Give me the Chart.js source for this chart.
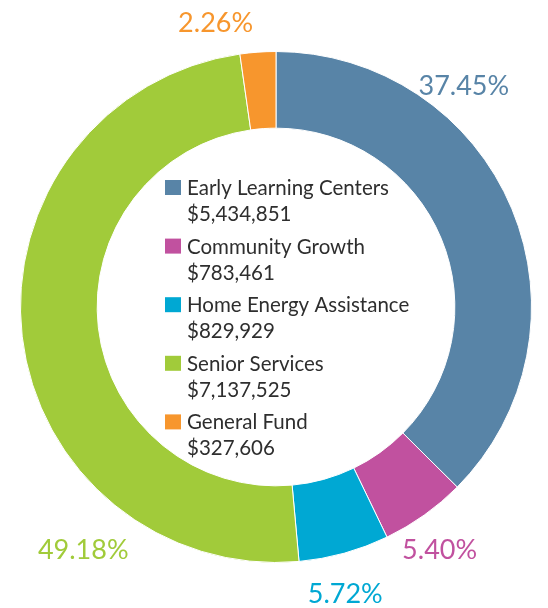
<!DOCTYPE html>
<html><head><meta charset="utf-8">
<script src="https://cdn.jsdelivr.net/npm/chart.js@4/dist/chart.umd.min.js"></script>
<style>html,body{margin:0;padding:0;background:#fff;overflow:hidden}canvas{display:block}</style>
</head><body>
<canvas id="c" width="548" height="608"></canvas>
<script>
const categories = ["Early Learning Centers", "Community Growth", "Home Energy Assistance", "Senior Services", "General Fund"];
const amounts = [5434851, 783461, 829929, 7137525, 327606];
const amountLabels = ["$5,434,851", "$783,461", "$829,929", "$7,137,525", "$327,606"];
const percentLabels = ["37.45%", "5.40%", "5.72%", "49.18%", "2.26%"];
const sliceColors = ["#5884a7", "#c1519f", "#00a8d3", "#a1cb3a", "#f7962d"];

// label placement: fraction along each arc, and distance beyond outer radius
const labelPlace = [
  {f: 0.300, d: 34}, {f: 0.582, d: 38}, {f: 0.593, d: 40}, {f: 0.246, d: 55}, {f: -0.477, d: 35}
];

const outerLabels = {
  id: 'outerLabels',
  afterDatasetsDraw(chart) {
    const ctx = chart.ctx;
    const meta = chart.getDatasetMeta(0);
    ctx.save();
    ctx.font = '400 27px Lato, "Open Sans", sans-serif';
    ctx.textAlign = 'center';
    ctx.textBaseline = 'middle';
    meta.data.forEach((arc, i) => {
      const p = arc.getProps(['x', 'y', 'startAngle', 'endAngle', 'outerRadius'], true);
      const a = p.startAngle + labelPlace[i].f * (p.endAngle - p.startAngle);
      const r = p.outerRadius + labelPlace[i].d;
      ctx.fillStyle = sliceColors[i];
      ctx.fillText(percentLabels[i], p.x + r * Math.cos(a), p.y + r * Math.sin(a));
    });
    ctx.restore();
  }
};

const centerLegend = {
  id: 'centerLegend',
  afterDatasetsDraw(chart) {
    const ctx = chart.ctx;
    const arc = chart.getDatasetMeta(0).data[0];
    const cx = arc.x, cy = arc.y;
    ctx.save();
    ctx.font = '20.5px Lato, "Open Sans", sans-serif';
    ctx.textAlign = 'left';
    ctx.textBaseline = 'alphabetic';
    categories.forEach((name, i) => {
      const base = cy - 112 + i * 58.6;
      ctx.fillStyle = sliceColors[i];
      ctx.fillRect(cx - 111, base - 15, 16, 15);
      ctx.fillStyle = '#2e2e2e';
      ctx.fillText(name, cx - 89, base);
      ctx.fillText(amountLabels[i], cx - 89, base + 26);
    });
    ctx.restore();
  }
};

new Chart(document.getElementById('c'), {
  type: 'doughnut',
  data: {
    labels: categories,
    datasets: [{
      data: amounts,
      backgroundColor: sliceColors,
      borderColor: '#ffffff',
      borderWidth: 1
    }]
  },
  options: {
    responsive: false,
    animation: false,
    devicePixelRatio: 1,
    cutout: '70%',
    layout: { padding: { left: 20, right: 16, top: 51, bottom: 45 } },
    plugins: { legend: { display: false }, tooltip: { enabled: false } }
  },
  plugins: [outerLabels, centerLegend]
});
</script>
</body></html>
